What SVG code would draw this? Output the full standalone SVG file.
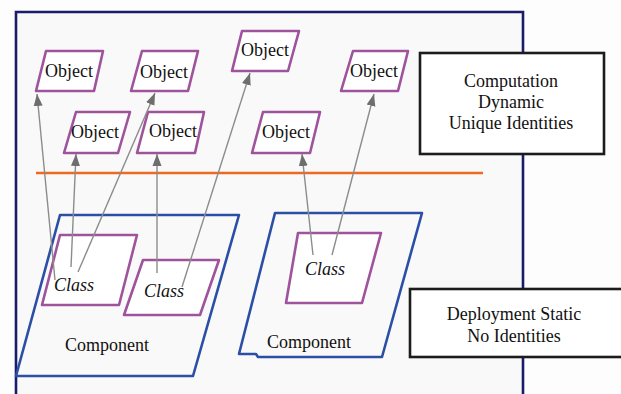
<svg xmlns="http://www.w3.org/2000/svg" width="621" height="394" viewBox="0 0 621 394">
  <style>
    .obj { fill: #ffffff; stroke: #9e539c; stroke-width: 2.6; stroke-linejoin: round; }
    .comp { fill: none; stroke: #2c4fa6; stroke-width: 2.6; stroke-linejoin: round; }
    .box { fill: #ffffff; stroke: #1c1c1c; stroke-width: 2.6; }
    text { font-family: "Liberation Serif", "DejaVu Serif", "Times New Roman", serif; font-size: 18px; fill: #111111; text-anchor: middle; }
    .ital { font-style: italic; }
    .link { stroke: #8c8c8c; stroke-width: 1.4; fill: none; marker-end: url(#head); }
  </style>
  <defs>
    <marker id="head" markerUnits="userSpaceOnUse" markerWidth="12" markerHeight="12" viewBox="0 0 12 12" refX="12" refY="6" orient="auto">
      <path d="M0,1.5 L12,6 L0,10.5 Z" fill="#6e6e6e"/>
    </marker>
  </defs>

  <rect x="0" y="0" width="621" height="394" fill="#fdfdfd"/>

  <!-- outer system frame -->
  <g id="frame">
    <path d="M16,400 V12 H523 V400" fill="#f9f9f9" stroke="#1b1b6e" stroke-width="2.6"/>
  </g>

  <!-- separator between computation and deployment -->
  <g id="separator">
    <line x1="36" y1="173" x2="483" y2="173" stroke="#ee6a22" stroke-width="2.6"/>
  </g>

  <!-- deployment components -->
  <g id="component1">
    <path class="comp" d="M60,215 L239,215 L193,376 L16,376 Z"/>
    <text x="107" y="351" font-family="Liberation Serif, serif">Component</text>
  </g>
  <g id="component2">
    <path class="comp" d="M275,213 L422,213 L382,357 L258,357 L256,354 L239,354 Z"/>
    <text x="309" y="348" font-family="Liberation Serif, serif">Component</text>
  </g>

  <!-- classes -->
  <g id="class1">
    <path class="obj" d="M60,235 L137,235 L119,305 L42,305 Z"/>
    <text class="ital" x="74" y="291" font-family="Liberation Serif, serif">Class</text>
  </g>
  <g id="class2">
    <path class="obj" d="M143,260 L219,260 L200,315 L124,315 Z"/>
    <text class="ital" x="164" y="297" font-family="Liberation Serif, serif">Class</text>
  </g>
  <g id="class3">
    <path class="obj" d="M298,233 L381,233 L362,303 L286,303 Z"/>
    <text class="ital" x="325" y="275" font-family="Liberation Serif, serif">Class</text>
  </g>

  <!-- runtime objects -->
  <g id="object1">
    <path class="obj" d="M46,51 L103,51 L94,91 L36,91 Z"/>
    <text x="69" y="77" font-family="Liberation Serif, serif">Object</text>
  </g>
  <g id="object2">
    <path class="obj" d="M142,51 L198,51 L188,91 L131,91 Z"/>
    <text x="164" y="78" font-family="Liberation Serif, serif">Object</text>
  </g>
  <g id="object3">
    <path class="obj" d="M242,31 L299,31 L288,71 L232,71 Z"/>
    <text x="265" y="56" font-family="Liberation Serif, serif">Object</text>
  </g>
  <g id="object4">
    <path class="obj" d="M76,112 L130,112 L118,153 L64,153 Z"/>
    <text x="95" y="138" font-family="Liberation Serif, serif">Object</text>
  </g>
  <g id="object5">
    <path class="obj" d="M148,112 L204,112 L195,153 L137,153 Z"/>
    <text x="173" y="137" font-family="Liberation Serif, serif">Object</text>
  </g>
  <g id="object6">
    <path class="obj" d="M263,112 L320,112 L310,153 L252,153 Z"/>
    <text x="286" y="138" font-family="Liberation Serif, serif">Object</text>
  </g>
  <g id="object7">
    <path class="obj" d="M353,51 L408,51 L398,91 L341,91 Z"/>
    <text x="374" y="77" font-family="Liberation Serif, serif">Object</text>
  </g>

  <!-- instantiation links: class to object -->
  <g id="connectors">
    <line class="link" x1="55" y1="280" x2="37" y2="94"/>
    <line class="link" x1="71" y1="267" x2="76" y2="154"/>
    <line class="link" x1="78" y1="272" x2="155" y2="93"/>
    <line class="link" x1="157" y1="273" x2="157" y2="154"/>
    <line class="link" x1="182" y1="287" x2="250" y2="73"/>
    <line class="link" x1="313" y1="255" x2="302" y2="154"/>
    <line class="link" x1="332" y1="255" x2="374" y2="94"/>
  </g>

  <!-- legend boxes -->
  <g id="computation">
    <rect class="box" x="420" y="53" width="184" height="101"/>
    <text x="511" y="87" font-family="Liberation Serif, serif">Computation</text>
    <text x="511" y="108" font-family="Liberation Serif, serif">Dynamic</text>
    <text x="511" y="129" font-family="Liberation Serif, serif">Unique Identities</text>
  </g>
  <g id="deployment">
    <rect class="box" x="410" y="289" width="215" height="68"/>
    <text x="514" y="320" font-family="Liberation Serif, serif">Deployment Static</text>
    <text x="514" y="342" font-family="Liberation Serif, serif">No Identities</text>
  </g>
</svg>
